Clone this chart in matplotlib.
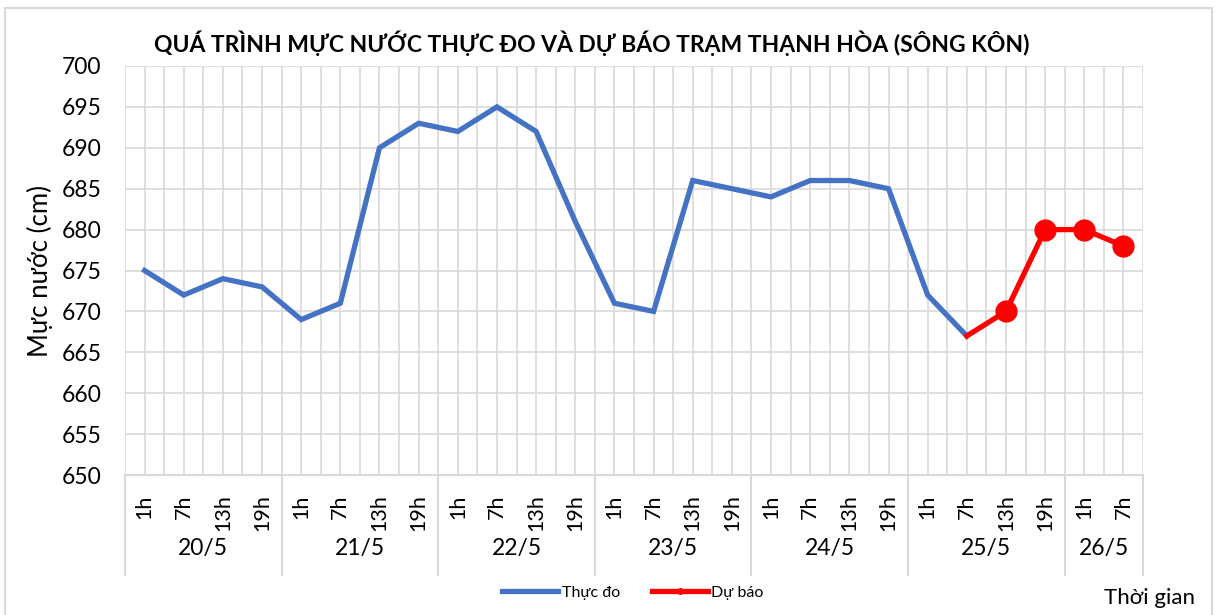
"""Water level chart: observed vs forecast at Thanh Hoa station (Kon river)."""

import matplotlib

matplotlib.use("Agg")

import matplotlib.pyplot as plt
import numpy as np
from matplotlib.lines import Line2D
from matplotlib.patches import Rectangle
from matplotlib.transforms import blended_transform_factory

plt.rcParams["font.family"] = ["Lato", "DejaVu Sans"]

days = ["20/5", "21/5", "22/5", "23/5", "24/5", "25/5", "26/5"]
hours_per_day = [4, 4, 4, 4, 4, 4, 2]
hour_labels = ["1h", "7h", "13h", "19h"]

observed = [675, 672, 674, 673, 669, 671, 690, 693, 692, 695, 692, 681,
            671, 670, 686, 685, 684, 686, 686, 685, 672, 667]
forecast = [667, 670, 680, 680, 678]

tick_labels = [h for n in hours_per_day for h in hour_labels[:n]]
n_points = len(tick_labels)
x_obs = np.arange(len(observed))
x_fc = np.arange(len(observed) - 1, len(observed) - 1 + len(forecast))

fig = plt.figure(figsize=(12.17, 6.15), dpi=100)
ax = fig.add_axes([0.1027, 0.2276, 0.8365, 0.6651])

grid_color = "#D9D9D9"
ax.plot(x_obs, observed, color="#4472C4", linewidth=3.8, solid_joinstyle="miter", zorder=3)
ax.plot(x_fc, forecast, color="#FF0000", linewidth=3.8, zorder=4)
ax.plot(x_fc[1:], forecast[1:], "o", color="#FF0000", markersize=15, zorder=5)

ax.set_xlim(-0.5, n_points - 0.5)
ax.set_ylim(650, 700)
ax.set_yticks(np.arange(650, 701, 5))
ax.set_xticks(np.arange(n_points))
ax.set_xticks(np.arange(-0.5, n_points, 1.0), minor=True)
ax.set_xticklabels(tick_labels, rotation=90, fontsize=15.5, va="top")
ax.tick_params(axis="both", which="both", length=0)
ax.tick_params(axis="x", pad=14)
ax.tick_params(axis="y", labelsize=16.5, pad=17)
ax.grid(True, which="both", color=grid_color, linewidth=1.2)
ax.set_axisbelow(True)
for side in ["top", "right", "left"]:
    ax.spines[side].set_visible(False)
ax.spines["bottom"].set_color(grid_color)
ax.spines["bottom"].set_linewidth(1.5)

ax.set_ylabel("Mực nước (cm)", fontsize=18.5, labelpad=6)

# day group separators and labels under the hour ticks
trans = blended_transform_factory(ax.transData, ax.transAxes)
bounds = np.concatenate([[0], np.cumsum(hours_per_day)]) - 0.5
for b in bounds:
    ax.plot([b, b], [0, -0.245], color=grid_color, linewidth=1.5,
            transform=trans, clip_on=False)
for day, lo, hi in zip(days, bounds[:-1], bounds[1:]):
    ax.text((lo + hi) / 2, -0.18, day, transform=trans, ha="center",
            va="center", fontsize=16.5)

fig.text(0.4865, 0.93, "QUÁ TRÌNH MỰC NƯỚC THỰC ĐO VÀ DỰ BÁO TRẠM THẠNH HÒA (SÔNG KÔN)",
         ha="center", va="center", fontsize=16.5, fontweight="bold")
fig.text(0.982, 0.028, "Thời gian", ha="right", va="center", fontsize=16)

handles = [
    Line2D([], [], color="#4472C4", linewidth=3.8),
    Line2D([], [], color="#FF0000", linewidth=3.8, marker="o", markersize=4),
]
fig.legend(handles, ["Thực đo", "Dự báo"], loc="center", bbox_to_anchor=(0.52, 0.036),
           ncol=2, frameon=False, fontsize=11.5, handlelength=3.5, handletextpad=0.2,
           columnspacing=2.0)

fig.patches.append(Rectangle((5 / 1217, -0.01), 1207 / 1217, 1 - 8 / 615 + 0.01,
                             transform=fig.transFigure, fill=False,
                             edgecolor=grid_color, linewidth=1.5))

fig.savefig("out.png", dpi=100)
